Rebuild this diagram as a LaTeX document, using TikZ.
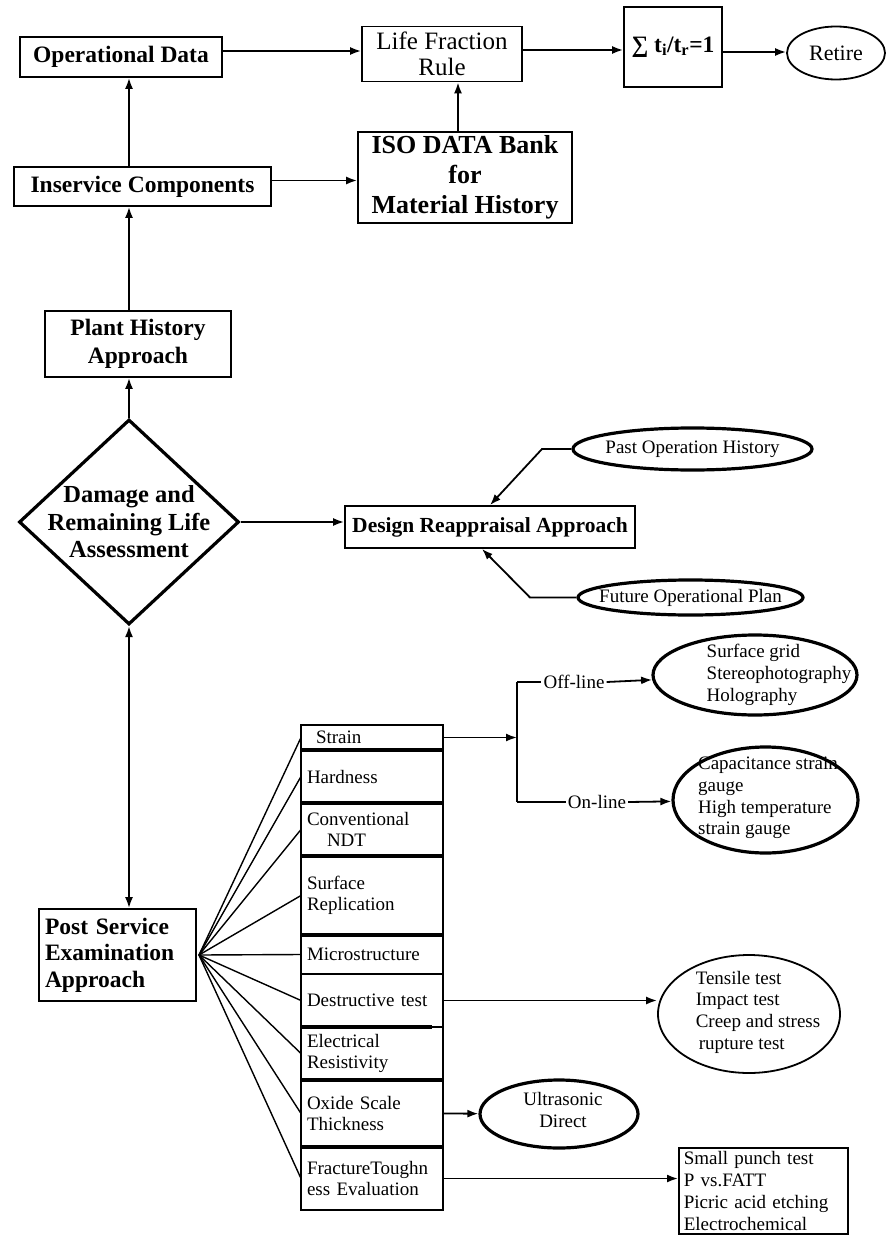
\documentclass[tikz,border=0pt]{standalone}
\usepackage{fontspec}
\setmainfont{Liberation Serif}
\usetikzlibrary{positioning,shapes.geometric,arrows.meta}

\tikzset{
  bigbox/.style={draw, line width=1.8pt, inner sep=0pt, align=center,
    font=\fontsize{23.5}{27.5}\selectfont\bfseries},
  plainbox/.style={draw, line width=1.8pt, inner sep=0pt, align=center,
    font=\fontsize{25}{26}\selectfont},
  cell/.style={draw, line width=1.5pt, minimum width=142pt, text width=130pt,
    inner xsep=6pt, inner ysep=0pt, outer sep=0pt, align=left, font=\fontsize{19}{21.5}\selectfont},
  smalltxt/.style={inner sep=0pt, align=left, font=\fontsize{19}{21.7}\selectfont},
  ellbox/.style={draw, ellipse, line width=3.2pt, inner sep=0pt},
  divider/.style={line width=3.2pt},
  link/.style={line width=1.8pt},
  arr/.style={link, -{Latex[length=11pt,width=8pt]}},
  arrboth/.style={link, {Latex[length=11pt,width=8pt]}-{Latex[length=11pt,width=8pt]}},
  fanline/.style={line width=1.4pt}
}

\begin{document}
\begin{tikzpicture}[x=1pt, y=-1pt]
  \useasboundingbox (0,0) rectangle (890,1238);
  % Define top row and history chain
  \node[bigbox, minimum width=202pt, minimum height=40pt] (opdata) at (121,57) {Operational Data};
  \node[plainbox, minimum width=160pt, minimum height=55pt] (lfrule) at (442,54) {Life Fraction\\Rule};
  \node[bigbox, minimum width=98pt, minimum height=80pt] (lsum) at (673,47) {∑ t\textsubscript{i}/t\textsubscript{r}=1};
  \node[draw, ellipse, line width=1.8pt, minimum width=98pt, minimum height=53pt,
    font=\fontsize{22}{24}\selectfont] (retire) at (836,53) {Retire};
  \node[bigbox, minimum width=214pt, minimum height=91pt,
    font=\fontsize{26}{30}\selectfont\bfseries] (iso) at (465,177.5) {ISO DATA Bank\\for\\Material History};
  \node[bigbox, minimum width=257pt, minimum height=39pt] (inserv) at (142.5,186.5) {Inservice Components};
  \node[bigbox, minimum width=186pt, minimum height=66pt] (plant) at (138,344) {Plant History\\Approach};
  % Define assessment diamond
  \node[diamond, draw, line width=3.2pt, minimum width=220pt, minimum height=205pt, inner sep=0pt] (dmg) at (129,522) {};
  \node[bigbox, draw=none, font=\fontsize{24.5}{27.5}\selectfont\bfseries] (dmgtxt) at (dmg) {Damage and\\Remaining Life\\Assessment};
  % Define design reappraisal branch
  \node[bigbox, minimum width=290pt, minimum height=42pt,
    font=\fontsize{21.5}{24}\selectfont\bfseries] (design) at (490,527) {Design Reappraisal Approach};
  \node[ellbox, minimum width=239pt, minimum height=42pt] (pastell) at (692.5,449) {};
  \node[smalltxt] (past) at (pastell) {Past Operation History};
  \node[ellbox, minimum width=225pt, minimum height=35pt] (futell) at (690.5,597.5) {};
  \node[smalltxt] (future) at (futell) {Future Operational Plan};
  \coordinate (pastknee) at (542,449);
  \coordinate (futknee) at (530,597.5);
  % Define post service branch
  \node[bigbox, minimum width=157pt, minimum height=92pt, text width=145pt, inner xsep=6pt,
    align=left, font=\fontsize{23.5}{26.5}\selectfont\bfseries] (post) at (117.5,955) {Post Service\\Examination\\Approach};
  \coordinate (fan) at (199,955);
  \node[cell, minimum height=25pt, anchor=north west] (strain) at (301,725) {\hspace*{9pt}Strain};
  \node[cell, minimum height=53pt, below=0pt of strain] (hard) {Hardness};
  \node[cell, minimum height=53pt, below=0pt of hard] (conv) {Conventional\\\hspace*{20pt}NDT};
  \node[cell, minimum height=79pt, below=0pt of conv] (surf) {Surface\\Replication};
  \node[cell, minimum height=39pt, below=0pt of surf] (micro) {Microstructure};
  \node[cell, minimum height=53pt, below=0pt of micro] (destr) {Destructive test};
  \node[cell, minimum height=53pt, below=0pt of destr] (elec) {Electrical\\Resistivity};
  \node[cell, minimum height=67pt, below=0pt of elec] (oxide) {Oxide Scale\\Thickness};
  \node[cell, minimum height=63pt, below=0pt of oxide] (frac) {FractureToughn\\ess Evaluation};
  % Define test outcomes
  \coordinate (offj) at (517,682);
  \coordinate (onj) at (517,802);
  \node[smalltxt, inner xsep=2pt] (offl) at (574,682) {Off-line};
  \node[smalltxt, inner xsep=2pt] (onl) at (597,802) {On-line};
  \node[ellbox, minimum width=204pt, minimum height=80pt] (gridell) at (755,675) {};
  \node[smalltxt] (gridtxt) at (779,675) {Surface grid\\Stereophotography\\Holography};
  \node[ellbox, minimum width=185pt, minimum height=106pt] (capell) at (765.5,800) {};
  \node[smalltxt] (captxt) at (768,798) {Capacitance strain\\gauge\\High temperature\\strain gauge};
  \node[ellbox, line width=1.8pt, minimum width=182pt, minimum height=118pt] (tenell) at (749,1014) {};
  \node[smalltxt] (tentxt) at (758,1012) {Tensile test\\Impact test\\Creep and stress\\\hspace*{3pt}rupture test};
  \node[ellbox, minimum width=158pt, minimum height=68pt] (ultell) at (559,1114) {};
  \node[smalltxt, align=center] (ulttxt) at (563,1110) {Ultrasonic\\Direct};
  \node[draw, line width=1.6pt, anchor=north west, minimum width=169pt, text width=159pt,
    inner xsep=5pt, inner ysep=4pt, align=left, font=\fontsize{19}{21.7}\selectfont]
    (spbox) at (678,1147) {Small punch test\\P vs.FATT\\Picric acid etching\\Electrochemical};
  % Define dividers of the test column
  \foreach \c in {hard,conv,surf,micro,oxide,frac}
    \draw[divider] (\c.north west) -- (\c.north east);
  \draw[divider, shorten >=11pt] (elec.north west) -- (elec.north east);
  % Define edges
  \draw[arr] ([yshift=6pt]opdata.east) -- ([yshift=6pt]opdata.east -| lfrule.west);
  \draw[arr] ([yshift=4pt]lfrule.east) -- ([yshift=4pt]lfrule.east -| lsum.west);
  \draw[arr] ([yshift=-5pt]lsum.east) -- ([yshift=-5pt]lsum.east -| retire.west);
  \draw[arr] ([xshift=-7pt]iso.north) -- ([xshift=-7pt]iso.north |- lfrule.south);
  \draw[arr] ([yshift=6pt]inserv.east) -- ([yshift=6pt]inserv.east -| iso.west);
  \draw[arr] (inserv.north -| dmg) -- (opdata.south -| dmg);
  \draw[arr] (plant.north -| dmg) -- (inserv.south -| dmg);
  \draw[arr] (dmg.north) -- (plant.south -| dmg);
  \draw[arr] (dmg.east) -- (dmg.east -| design.west);
  \draw[arr] (pastell.west) -- (pastknee) -- (design.north);
  \draw[arr] (futell.west) -- (futknee) -- ([xshift=-8pt]design.south);
  \draw[arrboth] (dmg.south) -- (post.north -| dmg);
  \foreach \c in {strain,hard,conv,surf,micro,destr,elec,oxide,frac}
    \draw[fanline] (fan) -- (\c.west);
  \draw[arr] (strain.east) -- (strain.east -| offj);
  \draw[link] (offj) -- (onj);
  \draw[link] (offj) -- (offl.west);
  \draw[arr] (offl.east) -- (gridell);
  \draw[link] (onj) -- (onl.west);
  \draw[arr] (onl.east) -- (capell);
  \draw[arr] (destr.east) -- (destr.east -| tenell.west);
  \draw[arr] (oxide.east) -- (ultell);
  \draw[arr] (frac.east) -- (frac.east -| spbox.west);
\end{tikzpicture}
\end{document}
